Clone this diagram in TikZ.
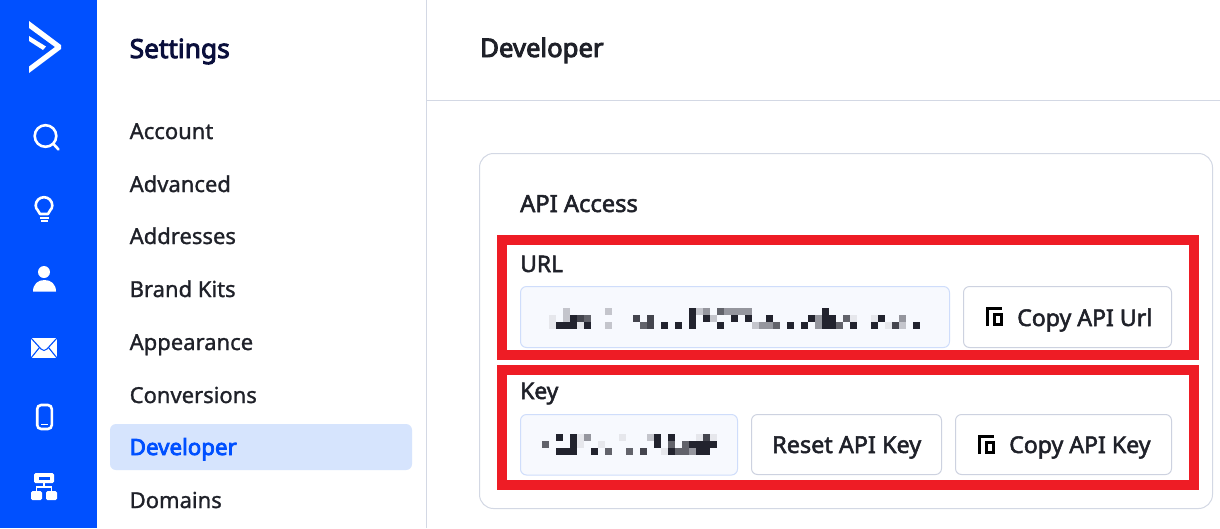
\documentclass[tikz,border=0pt]{standalone}
\usepackage{fontspec}
\setmainfont{Noto Sans}
\newfontfamily\medfont{Noto Sans}[FakeBold=1.2]
\newfontfamily\semifont{Noto Sans}[FakeBold=2.2]
\newfontfamily\boldfont{Noto Sans}[FakeBold=3.6]
\definecolor{brand}{HTML}{0050FF}
\definecolor{ink}{HTML}{1F2129}
\definecolor{navy}{HTML}{0A0F3C}
\definecolor{rule}{HTML}{D3D8E4}
\definecolor{btn}{HTML}{CDD2E0}
\definecolor{fieldb}{HTML}{CFDDFB}
\definecolor{fieldf}{HTML}{F7F9FE}
\definecolor{sel}{HTML}{D6E4FD}
\definecolor{alert}{HTML}{EE1C25}
\definecolor{pxa}{HTML}{22232E}
\definecolor{pxb}{HTML}{44454E}
\definecolor{pxc}{HTML}{62636B}
\definecolor{pxd}{HTML}{95969E}
\definecolor{pxe}{HTML}{C4C5CC}
\definecolor{pxf}{HTML}{E6E7EC}
\tikzset{
  x=1pt,y=-1pt,
  menu/.style={anchor=base west,inner sep=0pt,font=\medfont\fontsize{22}{26}\selectfont,text=ink},
  label/.style={anchor=base west,inner sep=0pt,font=\semifont\fontsize{22.8}{26}\selectfont,text=ink},
  btntext/.style={anchor=base west,inner sep=0pt,font=\semifont\fontsize{23.1}{26}\selectfont,text=ink},
  fieldbox/.style={draw=fieldb,fill=fieldf,line width=1pt,rounded corners=6pt},
  btnbox/.style={draw=btn,fill=white,line width=1pt,rounded corners=6pt},
  alertbox/.style={draw=alert,line width=10pt},
  icon/.style={draw=white,line width=2.6pt,line cap=round,line join=round},
}
% #1 x origin, #2 y origin, list of col/row/colour
\newcommand{\pixrow}[3]{\foreach \k/\r/\c in {#3}{\fill[\c] ({#1+7*\k},{#2+7*\r}) rectangle +(7,7);}}
\newcommand{\copyicon}[2]{%
  \begin{scope}[shift={(#1,#2)}]
    \draw[black,line width=3pt] (1.5,19) -- (1.5,1.5) -- (16,1.5);
    \draw[black,line width=3pt] (8.5,7.5) rectangle (15.5,17.5);
  \end{scope}}
\begin{document}
\begin{tikzpicture}
\useasboundingbox (0,0) rectangle (1220,528);
\fill[white] (0,0) rectangle (1220,528);
% sidebar
\fill[brand] (0,0) rectangle (97,528);
% logo
\fill[white] (29,21) -- (61,45) -- (61,49) -- (29,73) -- (29,66.5) -- (55,47) -- (29,28) -- cycle;
\fill[white] (29,36) -- (46,46.5) -- (43,50) -- (29,41) -- cycle;
% search
\draw[icon] (45.5,136) circle (10.8);
\draw[icon] (53.5,144) -- (58.5,149.5);
% bulb
\draw[icon] (40,214) .. controls (39.5,210.5) and (35.7,210) .. (35.7,205.5) arc[start angle=180,end angle=360,radius=8.3] .. controls (52.3,210) and (48.5,210.5) .. (48,214) -- cycle;
\fill[white] (39.5,216.5) rectangle (48.5,218.8);
\fill[white] (40.5,219.8) rectangle (47.5,221.8);
% person
\fill[white] (44,272) circle (6);
\fill[white] (33,291.5) .. controls (33,284) and (38,280) .. (44.5,280) .. controls (51,280) and (56,284) .. (56,291.5) -- cycle;
% mail
\fill[white] (31,338) rectangle (57,358);
\draw[brand,line width=1.1pt] (31,338) -- (41,349) .. controls (43,351) and (45,351) .. (47,349) -- (57,338);
\draw[brand,line width=1.1pt] (31,358) -- (39.5,347.5) (57,358) -- (48.5,347.5);
% phone
\draw[white,line width=2.6pt,rounded corners=4pt] (37.2,405) rectangle (51.8,429);
\fill[white] (40.5,423.5) rectangle (48,425);
% tree
\fill[white,rounded corners=1.5pt] (34,473) rectangle (54,483);
\fill[brand] (38.5,477) rectangle (50,479.5);
\draw[white,line width=1.6pt] (44,483) -- (44,487) (36.5,491) -- (36.5,487) -- (51.5,487) -- (51.5,491);
\fill[white,rounded corners=1.5pt] (31,491) rectangle (42,500);
\fill[white,rounded corners=1.5pt] (46,491) rectangle (57,500);
% panel rules
\draw[rule,line width=1pt] (426.5,0) -- (426.5,528);
\draw[rule,line width=1pt] (426.5,100.5) -- (1220,100.5);
% menu
\fill[sel,rounded corners=6pt] (110,424) rectangle (412,470);
\node[menu,font=\boldfont\fontsize{26.3}{28}\selectfont,text=navy] (settings) at (129.5,58) {Settings};
\node[menu] (m1) at (129.5,139) {Account};
\node[menu] (m2) at (129.5,192) {Advanced};
\node[menu] (m3) at (129.5,244) {Addresses};
\node[menu] (m4) at (129.5,297) {Brand Kits};
\node[menu] (m5) at (129.5,350) {Appearance};
\node[menu] (m6) at (129.5,403) {Conversions};
\node[menu,font=\boldfont\fontsize{22.3}{26}\selectfont,text=brand] (m7) at (129.5,455) {Developer};
\node[menu] (m8) at (129.5,508) {Domains};
\node[label,font=\boldfont\fontsize{25.7}{28}\selectfont] (title) at (480,57) {Developer};
% card
\draw[rule,line width=1pt,rounded corners=14pt] (479.5,153.5) rectangle (1212.5,508.5);
\node[label,font=\semifont\fontsize{23.7}{26}\selectfont] (api) at (520,212) {API Access};
\node[label] (url) at (520,272) {URL};
\node[label] (key) at (520,399) {Key};
% fields and buttons
\draw[fieldbox] (520.5,286.5) rectangle (949.5,347.5);
\draw[fieldbox] (520.5,414.5) rectangle (737.5,475);
\draw[btnbox] (963.5,286.5) rectangle (1171.5,347.5);
\draw[btnbox] (751.5,414.5) rectangle (941.5,474.5);
\draw[btnbox] (955.5,414.5) rectangle (1171.5,474.5);
\node[btntext] (copyurl) at (1017,326) {Copy API Url};
\node[btntext,font=\semifont\fontsize{23.4}{26}\selectfont] (reset) at (772,453) {Reset API Key};
\node[btntext] (copykey) at (1009,453) {Copy API Key};
\copyicon{986}{307}
\copyicon{978}{435}
% pixelated URL
\pixrow{549}{308}{2/0/pxe,8/0/pxe,20/0/pxa,21/0/pxe,22/0/pxd,24/0/pxc,25/0/pxd,26/0/pxd,27/0/pxd,28/0/pxd,39/0/pxa,
0/1/pxf,2/1/pxe,3/1/pxa,4/1/pxb,5/1/pxc,12/1/pxb,14/1/pxb,20/1/pxa,22/1/pxa,23/1/pxe,26/1/pxa,28/1/pxa,31/1/pxa,37/1/pxa,38/1/pxd,39/1/pxa,40/1/pxa,42/1/pxc,43/1/pxf,46/1/pxf,47/1/pxa,50/1/pxd,
0/2/pxf,1/2/pxa,2/2/pxa,3/2/pxa,4/2/pxf,5/2/pxa,8/2/pxe,13/2/pxc,14/2/pxb,16/2/pxa,18/2/pxa,20/2/pxa,24/2/pxa,29/2/pxe,30/2/pxd,31/2/pxd,32/2/pxc,34/2/pxa,36/2/pxa,38/2/pxd,39/2/pxa,40/2/pxa,41/2/pxc,43/2/pxa,46/2/pxa,48/2/pxf,49/2/pxb,50/2/pxe,52/2/pxa}
% pixelated key
\pixrow{542}{434}{2/0/pxa,4/0/pxa,5/0/pxf,6/0/pxd,11/0/pxf,15/0/pxe,16/0/pxa,18/0/pxa,22/0/pxf,23/0/pxb,24/0/pxf,
0/1/pxc,4/1/pxa,5/1/pxf,8/1/pxf,16/1/pxa,18/1/pxc,20/1/pxc,21/1/pxa,22/1/pxa,23/1/pxa,24/1/pxa,
2/2/pxa,3/2/pxa,4/2/pxa,7/2/pxa,9/2/pxc,12/2/pxc,14/2/pxb,17/2/pxf,18/2/pxa,19/2/pxc,20/2/pxc,21/2/pxd,22/2/pxa,23/2/pxa}
% red highlight boxes
\draw[alertbox] (502,240) rectangle (1194,355);
\draw[alertbox] (502,370) rectangle (1194,485);
\end{tikzpicture}
\end{document}
